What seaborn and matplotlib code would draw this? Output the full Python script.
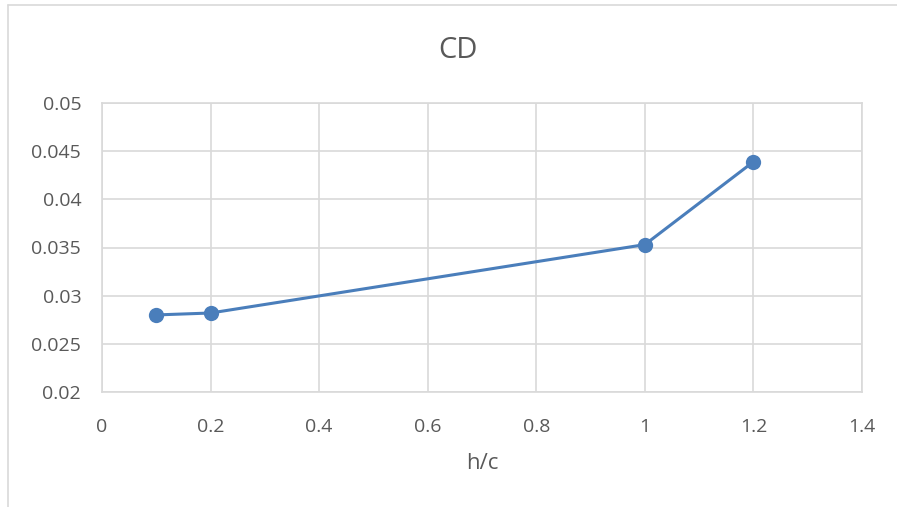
import matplotlib
matplotlib.use("Agg")
import matplotlib.pyplot as plt
import seaborn as sns
import pandas as pd
from matplotlib.lines import Line2D

h_c = [0.1, 0.2, 1.0, 1.2]
cd = [0.0280, 0.0282, 0.0353, 0.0439]

df = pd.DataFrame({"h/c": h_c, "CD": cd})

sns.set_style("white")
plt.rcParams["font.family"] = ["Open Sans", "DejaVu Sans"]

grid_col = "#D9D9D9"
text_col = "#595959"
blue = "#4A7EBB"

fig = plt.figure(figsize=(8.97, 5.07), dpi=100)
ax = fig.add_axes([102 / 897, 1 - 392 / 507, 760 / 897, 289 / 507])

sns.lineplot(data=df, x="h/c", y="CD", ax=ax, color=blue, linewidth=2.2,
             marker="o", markersize=11, markeredgewidth=0, markerfacecolor=blue)

ax.set_xlim(0, 1.4)
ax.set_ylim(0.02, 0.05)
ax.set_xticks([0, 0.2, 0.4, 0.6, 0.8, 1.0, 1.2, 1.4])
ax.set_xticklabels(["0", "0.2", "0.4", "0.6", "0.8", "1", "1.2", "1.4"])
ax.set_yticks([0.02, 0.025, 0.03, 0.035, 0.04, 0.045, 0.05])
ax.set_yticklabels(["0.02", "0.025", "0.03", "0.035", "0.04", "0.045", "0.05"])
ax.grid(True, color=grid_col, linewidth=1.2)
ax.set_axisbelow(True)
for s in ax.spines.values():
    s.set_color(grid_col)
    s.set_linewidth(1.2)
ax.tick_params(length=0, labelsize=14, colors=text_col)
ax.tick_params(axis="x", pad=19)
ax.tick_params(axis="y", pad=15)
ax.set_xlabel("h/c", fontsize=16, color=text_col, labelpad=12)
ax.set_ylabel("")
fig.text(458 / 897, 1 - 50 / 507, "CD", fontsize=21, color=text_col,
         ha="center", va="center")

# chart border
fig.add_artist(Line2D([8 / 897, 8 / 897], [0, 1 - 5 / 507], color=grid_col, linewidth=1.2))
fig.add_artist(Line2D([8 / 897, 1], [1 - 5 / 507, 1 - 5 / 507], color=grid_col, linewidth=1.2))

fig.savefig("out.png", dpi=100)
